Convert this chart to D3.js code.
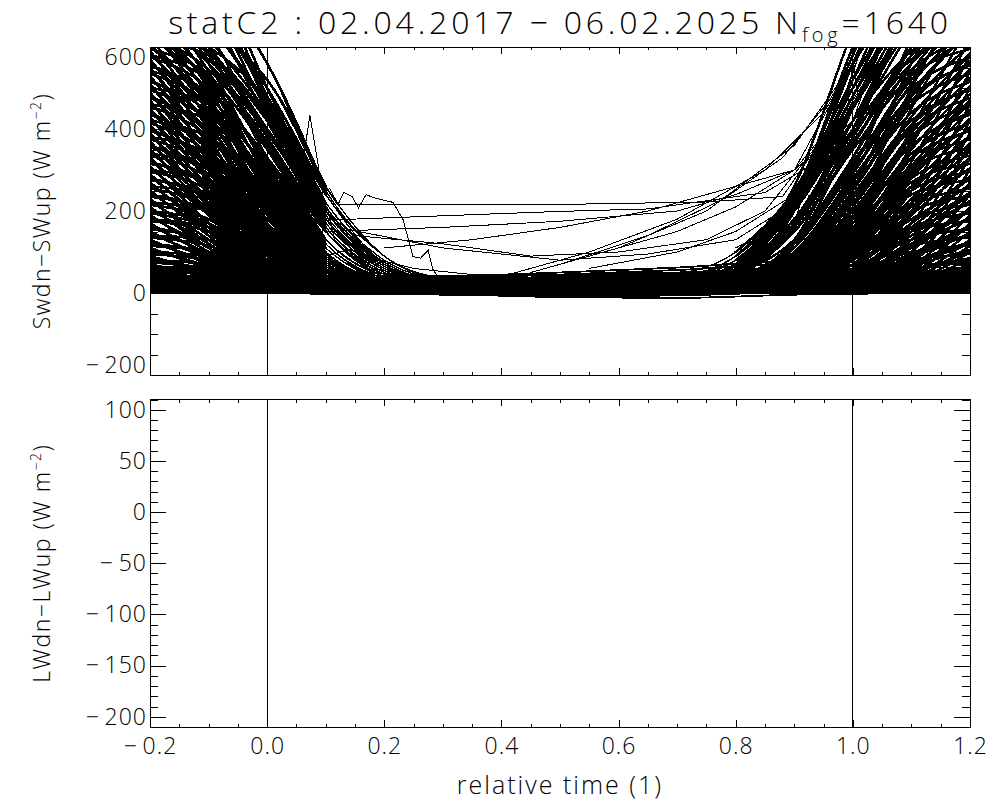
<!DOCTYPE html>
<html>
<head>
<meta charset="utf-8">
<script src="https://cdn.jsdelivr.net/npm/d3@7"></script>
<style>
  body { margin: 0; background: #fff; }
  svg { display: block; }
  text { font-family: "Open Sans", "DejaVu Sans", sans-serif; font-weight: 300; fill: #000; }
</style>
</head>
<body>
<svg id="chart"></svg>
<script>
// --- data ------------------------------------------------------------------

const title = 'statC2 : 02.04.2017 \u2212 06.02.2025 N'
const titleSub = 'fog'
const titleTail = '=1640'
const xLabel = 'relative time (1)'
const xTicks = [-0.2, 0.0, 0.2, 0.4, 0.6, 0.8, 1.0, 1.2]
const swTicks = [-200, 0, 200, 400, 600]
const lwTicks = [-200, -150, -100, -50, 0, 50, 100]
const markers = [0, 1]

// fog onset: net SW before fog starts, sampled at onsetX
const onsetX = [-0.2, -0.1, 0.0, 0.1, 0.2, 0.3]
const onsetRows = [
  [900, 700, 420, 180, 50, 20], [850, 640, 380, 150, 40, 15], [820, 600, 330, 120, 35, 12],
  [780, 560, 300, 100, 30, 10], [760, 620, 440, 220, 70, 25], [740, 540, 280, 90, 25, 8],
  [720, 600, 400, 170, 55, 18], [700, 520, 250, 80, 20, 6], [690, 640, 520, 260, 90, 30],
  [680, 500, 240, 70, 15, 5], [670, 560, 350, 130, 40, 15], [660, 480, 220, 60, 12, 4],
  [650, 600, 470, 240, 70, 20], [640, 460, 200, 55, 10, 3], [630, 520, 310, 110, 35, 12],
  [620, 440, 190, 50, 12, 5], [615, 580, 430, 200, 60, 20], [610, 420, 170, 45, 10, 3],
  [600, 470, 260, 90, 28, 10], [590, 400, 160, 40, 8, 2], [580, 520, 360, 150, 45, 15],
  [570, 380, 150, 35, 6, 2], [560, 450, 250, 85, 22, 8], [550, 360, 130, 30, 5, 0],
  [540, 490, 330, 130, 40, 15], [530, 340, 120, 25, 5, 0], [520, 420, 220, 70, 20, 6],
  [510, 320, 110, 22, 4, 0], [500, 460, 300, 110, 30, 10], [490, 300, 100, 20, 3, 0],
  [480, 390, 200, 60, 15, 5], [470, 280, 90, 18, 2, 0], [460, 420, 270, 100, 25, 8],
  [450, 270, 80, 15, 2, 0], [440, 350, 180, 55, 14, 5], [430, 250, 75, 12, 0, 0],
  [420, 380, 230, 80, 20, 6], [410, 240, 70, 10, 0, 0], [400, 320, 160, 45, 10, 3],
  [390, 220, 60, 8, 0, 0], [380, 340, 200, 70, 18, 5], [370, 210, 55, 8, 0, 0],
  [360, 290, 140, 40, 10, 3], [350, 200, 50, 6, 0, 0], [340, 300, 180, 60, 15, 4],
  [330, 190, 45, 5, 0, 0], [320, 260, 120, 35, 8, 2], [310, 170, 40, 5, 0, 0],
  [300, 270, 160, 55, 12, 4], [290, 160, 35, 4, 0, 0], [280, 230, 110, 30, 7, 2],
  [270, 150, 30, 3, 0, 0], [260, 240, 140, 45, 10, 3], [250, 140, 28, 3, 0, 0],
  [240, 200, 95, 25, 5, 0], [230, 120, 25, 2, 0, 0], [220, 200, 120, 40, 10, 2],
  [210, 110, 22, 2, 0, 0], [200, 170, 80, 20, 4, 0], [190, 100, 20, 2, 0, 0],
  [180, 160, 100, 35, 8, 2], [170, 90, 18, 0, 0, 0], [160, 130, 65, 18, 3, 0],
  [150, 80, 15, 0, 0, 0], [140, 130, 80, 28, 6, 0], [130, 70, 14, 0, 0, 0],
  [120, 100, 50, 14, 2, 0], [110, 60, 12, 0, 0, 0], [100, 90, 60, 20, 5, 0],
  [90, 50, 10, 0, 0, 0], [80, 70, 40, 12, 2, 0], [70, 40, 8, 0, 0, 0],
  [60, 55, 30, 10, 2, 0], [50, 30, 6, 0, 0, 0], [40, 35, 20, 6, 0, 0],
  [30, 18, 4, 0, 0, 0], [20, 15, 10, 3, 0, 0],
  [880, 760, 560, 250, 90, 35], [830, 700, 480, 220, 80, 30], [800, 660, 450, 200, 70, 20],
  [770, 690, 500, 240, 90, 30], [750, 600, 380, 160, 50, 15], [730, 650, 460, 210, 70, 25],
  [710, 580, 360, 150, 45, 12], [690, 560, 390, 180, 60, 20], [675, 530, 310, 120, 30, 8],
  [665, 590, 420, 200, 65, 20], [655, 510, 290, 100, 25, 6], [645, 570, 400, 180, 55, 15],
  [635, 490, 270, 90, 20, 5], [625, 545, 370, 160, 45, 12], [605, 460, 250, 80, 18, 4],
  [595, 530, 350, 150, 40, 10], [585, 430, 230, 70, 15, 3], [575, 500, 320, 120, 35, 10],
  [565, 410, 210, 60, 12, 2], [555, 480, 300, 110, 30, 8], [545, 390, 190, 55, 10, 2],
  [535, 460, 280, 95, 25, 6], [525, 370, 170, 45, 8, 0], [515, 440, 260, 85, 22, 5],
  [505, 350, 160, 40, 6, 0], [495, 420, 240, 75, 18, 4], [485, 330, 140, 35, 5, 0],
  [475, 400, 220, 65, 15, 3], [465, 310, 130, 30, 4, 0], [455, 380, 200, 60, 12, 2],
  [445, 300, 120, 25, 3, 0], [435, 360, 190, 55, 12, 2], [425, 280, 110, 22, 2, 0],
  [415, 340, 170, 50, 10, 2], [405, 260, 100, 20, 2, 0], [395, 330, 170, 50, 10, 2],
  [385, 250, 90, 15, 0, 0], [375, 310, 150, 40, 8, 0], [365, 230, 80, 12, 0, 0],
  [355, 300, 150, 45, 10, 2], [345, 220, 70, 10, 0, 0], [335, 280, 130, 35, 6, 0],
  [325, 200, 60, 8, 0, 0], [315, 270, 130, 40, 8, 0], [305, 190, 55, 6, 0, 0],
  [295, 250, 110, 30, 5, 0], [285, 170, 45, 5, 0, 0], [275, 240, 110, 30, 5, 0],
  [265, 160, 40, 4, 0, 0], [255, 210, 90, 22, 4, 0], [245, 150, 35, 3, 0, 0],
  [235, 200, 90, 25, 4, 0], [225, 130, 30, 2, 0, 0], [215, 180, 80, 20, 3, 0],
  [205, 120, 28, 2, 0, 0], [195, 160, 70, 18, 3, 0], [185, 110, 24, 2, 0, 0],
  [175, 150, 70, 18, 3, 0], [165, 95, 20, 0, 0, 0], [155, 130, 60, 15, 2, 0],
  [145, 85, 18, 0, 0, 0], [135, 115, 55, 14, 2, 0], [125, 75, 15, 0, 0, 0],
  [115, 100, 50, 12, 2, 0], [105, 65, 12, 0, 0, 0], [95, 80, 40, 10, 0, 0],
  [85, 55, 10, 0, 0, 0], [75, 60, 30, 8, 0, 0], [65, 40, 8, 0, 0, 0],
  [55, 45, 22, 6, 0, 0], [45, 28, 5, 0, 0, 0], [35, 28, 14, 4, 0, 0],
  [25, 15, 3, 0, 0, 0], [15, 12, 6, 2, 0, 0],
  [950, 780, 480, 200, 70, 25], [1000, 820, 500, 210, 75, 25], [920, 760, 460, 190, 65, 22],
  [870, 720, 440, 180, 60, 20], [960, 800, 470, 200, 70, 24]
]

// fog dissipation: net SW after fog ends, sampled at clearX
const clearX = [0.7, 0.8, 0.9, 1.0, 1.1, 1.2]
const clearRows = [
  [10, 30, 120, 380, 700, 900], [12, 40, 160, 450, 760, 950], [8, 25, 90, 300, 620, 850],
  [15, 50, 200, 520, 820, 1000], [5, 20, 70, 250, 560, 800], [20, 60, 240, 580, 880, 1050],
  [6, 18, 60, 210, 500, 760], [10, 35, 130, 400, 680, 820], [4, 15, 50, 180, 450, 700],
  [18, 55, 210, 480, 740, 880], [3, 12, 40, 150, 400, 660], [9, 30, 110, 330, 600, 780],
  [2, 10, 35, 130, 360, 620], [14, 45, 170, 420, 650, 760], [2, 8, 30, 110, 320, 580],
  [7, 25, 95, 290, 540, 700], [0, 6, 25, 95, 280, 540], [12, 40, 150, 360, 580, 690],
  [0, 5, 20, 80, 250, 500], [6, 22, 80, 250, 480, 640], [0, 4, 18, 70, 220, 460],
  [10, 35, 120, 310, 520, 620], [0, 3, 15, 60, 190, 420], [5, 18, 65, 210, 430, 580],
  [0, 2, 12, 50, 170, 390], [8, 28, 100, 270, 470, 560], [0, 2, 10, 45, 150, 360],
  [4, 15, 55, 180, 380, 520], [0, 0, 8, 40, 130, 330], [6, 22, 80, 230, 410, 500],
  [0, 0, 7, 35, 115, 300], [3, 12, 45, 150, 330, 470], [0, 0, 6, 30, 100, 270],
  [5, 18, 65, 190, 360, 440], [0, 0, 5, 25, 85, 240], [2, 10, 38, 125, 290, 420],
  [0, 0, 4, 20, 75, 210], [4, 15, 52, 160, 310, 400], [0, 0, 3, 18, 65, 190],
  [2, 8, 30, 105, 250, 380], [0, 0, 3, 15, 55, 170], [3, 12, 42, 130, 260, 350],
  [0, 0, 2, 12, 48, 150], [1, 6, 24, 85, 210, 330], [0, 0, 2, 10, 40, 130],
  [2, 10, 34, 105, 220, 300], [0, 0, 2, 8, 34, 115], [1, 5, 20, 70, 170, 280],
  [0, 0, 1, 7, 28, 100], [2, 8, 28, 85, 180, 260], [0, 0, 1, 6, 24, 85],
  [1, 4, 16, 55, 140, 240], [0, 0, 1, 5, 20, 70], [1, 6, 22, 70, 150, 220],
  [0, 0, 0, 4, 16, 60], [0, 3, 12, 45, 115, 200], [0, 0, 0, 3, 12, 50],
  [1, 5, 18, 55, 120, 180], [0, 0, 0, 2, 10, 40], [0, 2, 10, 35, 90, 160],
  [0, 0, 0, 2, 8, 30], [1, 4, 14, 42, 95, 140], [0, 0, 0, 1, 6, 22],
  [0, 2, 8, 28, 70, 120], [0, 1, 6, 20, 50, 100], [0, 2, 8, 25, 55, 80],
  [0, 1, 5, 15, 35, 60], [0, 1, 4, 12, 28, 45], [0, 1, 3, 9, 20, 30],
  [0, 0, 2, 6, 14, 20], [40, 80, 200, 450, 700, 850], [30, 70, 170, 400, 640, 780],
  [35, 90, 230, 500, 760, 900], [25, 60, 150, 360, 600, 720], [45, 100, 250, 520, 740, 860],
  [20, 50, 130, 330, 560, 700], [30, 65, 180, 420, 690, 820], [15, 55, 230, 600, 900, 1100],
  [10, 45, 200, 560, 850, 1000], [20, 70, 260, 640, 950, 1100],
  [35, 90, 240, 560, 760, 880], [30, 80, 220, 480, 700, 830], [20, 70, 200, 450, 660, 800],
  [30, 90, 240, 500, 690, 770], [15, 50, 160, 380, 600, 750], [25, 70, 210, 460, 650, 730],
  [12, 45, 150, 360, 580, 710], [20, 60, 180, 390, 560, 690], [8, 30, 120, 310, 530, 675],
  [20, 65, 200, 420, 590, 665], [6, 25, 100, 290, 510, 655], [15, 55, 180, 400, 570, 645],
  [5, 20, 90, 270, 490, 635], [12, 45, 160, 370, 545, 625], [4, 18, 80, 250, 460, 605],
  [10, 40, 150, 350, 530, 595], [3, 15, 70, 230, 430, 585], [10, 35, 120, 320, 500, 575],
  [2, 12, 60, 210, 410, 565], [8, 30, 110, 300, 480, 555], [2, 10, 55, 190, 390, 545],
  [6, 25, 95, 280, 460, 535], [0, 8, 45, 170, 370, 525], [5, 22, 85, 260, 440, 515],
  [0, 6, 40, 160, 350, 505], [4, 18, 75, 240, 420, 495], [0, 5, 35, 140, 330, 485],
  [3, 15, 65, 220, 400, 475], [0, 4, 30, 130, 310, 465], [2, 12, 60, 200, 380, 455],
  [0, 3, 25, 120, 300, 445], [2, 12, 55, 190, 360, 435], [0, 2, 22, 110, 280, 425],
  [2, 10, 50, 170, 340, 415], [0, 2, 20, 100, 260, 405], [2, 10, 50, 170, 330, 395],
  [0, 0, 15, 90, 250, 385], [0, 8, 40, 150, 310, 375], [0, 0, 12, 80, 230, 365],
  [2, 10, 45, 150, 300, 355], [0, 0, 10, 70, 220, 345], [0, 6, 35, 130, 280, 335],
  [0, 0, 8, 60, 200, 325], [0, 8, 40, 130, 270, 315], [0, 0, 6, 55, 190, 305],
  [0, 5, 30, 110, 250, 295], [0, 0, 5, 45, 170, 285], [0, 5, 30, 110, 240, 275],
  [0, 0, 4, 40, 160, 265], [0, 4, 22, 90, 210, 255], [0, 0, 3, 35, 150, 245],
  [0, 4, 25, 90, 200, 235], [0, 0, 2, 30, 130, 225], [0, 3, 20, 80, 180, 215],
  [0, 0, 2, 28, 120, 205], [0, 3, 18, 70, 160, 195], [0, 0, 2, 24, 110, 185],
  [0, 3, 18, 70, 150, 175], [0, 0, 0, 20, 95, 165], [0, 2, 15, 60, 130, 155],
  [0, 0, 0, 18, 85, 145], [0, 2, 14, 55, 115, 135], [0, 0, 0, 15, 75, 125],
  [0, 2, 12, 50, 100, 115], [0, 0, 0, 12, 65, 105], [0, 0, 10, 40, 80, 95],
  [0, 0, 0, 10, 55, 85], [0, 0, 8, 30, 60, 75], [0, 0, 0, 8, 40, 65],
  [0, 0, 6, 22, 45, 55], [0, 0, 0, 5, 28, 45], [0, 0, 4, 14, 28, 35],
  [0, 0, 0, 3, 15, 25], [0, 0, 2, 6, 12, 15]
]

// night fogs: flat near zero across the whole window
const nightX = [-0.2, 0.1, 0.3, 0.5, 0.7, 0.9, 1.2]
const nightRows = [
  [0, 0, 0, 0, 0, 0, 0], [3, 2, 2, 3, 4, 3, 2], [6, 5, 4, 5, 7, 6, 5],
  [10, 8, 6, 8, 10, 9, 8], [14, 10, 9, 10, 13, 12, 10], [18, 14, 12, 14, 16, 15, 14],
  [22, 18, 14, 16, 20, 20, 18], [26, 20, 17, 19, 24, 24, 22], [30, 24, 20, 22, 28, 28, 26],
  [35, 28, 22, 26, 32, 34, 30], [40, 30, 25, 30, 36, 40, 35], [45, 35, 28, 33, 40, 46, 40],
  [50, 38, 30, 36, 46, 52, 45], [55, 42, 34, 40, 50, 60, 52], [60, 48, 38, 45, 56, 70, 60],
  [65, 55, 42, 50, 62, 78, 68], [12, 20, 26, 30, 34, 40, 30], [8, 15, 22, 25, 28, 32, 25],
  [5, 10, 18, 22, 30, 45, 35], [2, 6, 12, 16, 22, 30, 20], [20, 30, 35, 38, 42, 50, 40],
  [25, 36, 40, 44, 50, 58, 48], [4, -2, -4, -8, -6, 2, 4], [2, 0, -3, -10, -12, -4, 2],
  [0, 1, -1, -5, -2, 0, 0], [1, 1, 1, 1, 1, 1, 1], [8, 4, 3, 3, 4, 6, 9],
  [16, 9, 7, 9, 11, 14, 20], [28, 15, 11, 13, 17, 22, 34], [48, 25, 16, 18, 24, 30, 55]
]

// single events that stand out in the middle, [relative time, W m-2]
const spikeEvent = [[-0.2, 700], [-0.1, 560], [0.0, 380], [0.03, 300], [0.06, 310], [0.073, 433],
  [0.095, 243], [0.107, 255], [0.121, 216], [0.131, 245], [0.145, 235], [0.156, 208], [0.169, 240],
  [0.181, 233], [0.203, 225], [0.215, 221], [0.232, 179], [0.249, 89], [0.262, 85], [0.275, 104],
  [0.283, 58], [0.3, 20], [0.4, 10], [0.6, 8]]
const flatEvents = [
  [[0.08, 300], [0.12, 216], [0.5, 216], [0.75, 222], [0.88, 235], [0.95, 380], [1.0, 520], [1.05, 650]],
  [[0.02, 260], [0.05, 175], [0.5, 199], [0.65, 205], [0.85, 245], [0.95, 330], [1.0, 470], [1.08, 650]],
  [[0.0, 300], [0.1, 150], [0.3, 160], [0.5, 175], [0.7, 200], [0.8, 240], [0.9, 300], [1.0, 560], [1.03, 650]],
  [[0.08, 220], [0.15, 140], [0.3, 120], [0.45, 90], [0.6, 100], [0.75, 130], [0.85, 200], [0.95, 380]],
  [[0.12, 160], [0.3, 110], [0.5, 80], [0.65, 95], [0.8, 130], [0.9, 220], [1.0, 480]],
  [[0.0, 300], [0.05, 180], [0.09, 120], [0.102, 212], [0.115, 130], [0.14, 90], [0.18, 60], [0.25, 40]],
  [[0.05, 200], [0.1, 90], [0.14, 106], [0.2, 78], [0.25, 60], [0.35, 45]]
]
const risingEvents = [
  [[0.4, 40], [0.55, 100], [0.7, 180], [0.85, 300], [0.95, 440], [1.02, 600]],
  [[0.45, 50], [0.6, 110], [0.75, 200], [0.9, 360], [1.0, 560], [1.03, 640]],
  [[0.55, 90], [0.7, 150], [0.8, 210], [0.9, 300], [0.97, 420], [1.02, 620]],
  [[0.5, 70], [0.65, 140], [0.78, 230], [0.88, 330], [0.96, 470], [1.0, 560]],
  [[0.2, 110], [0.35, 130], [0.5, 160], [0.65, 200], [0.8, 260], [0.9, 300], [1.0, 420], [1.05, 620]],
  [[0.55, 60], [0.7, 100], [0.8, 150], [0.9, 240], [0.95, 330], [1.0, 450]],
  [[0.85, 120], [0.9, 200], [0.93, 260], [0.95, 240], [0.97, 380], [0.99, 440], [1.0, 562], [1.01, 470], [1.05, 600]],
  [[0.8, 110], [0.84, 140], [0.86, 180], [0.87, 130], [0.89, 240], [0.9, 170], [0.92, 260], [0.93, 200],
    [0.95, 300], [0.98, 450], [1.02, 620]]
]

// --- layout ------------------------------------------------------------------

const width = 1000
const height = 800
const left = 150
const right = 970
const top1 = 47
const bottom1 = 375
const top2 = 399.5
const bottom2 = 727

const svg = d3.select('#chart')
  .attr('width', width)
  .attr('height', height)

svg.append('rect')
  .attr('width', width)
  .attr('height', height)
  .attr('fill', '#fff')

const x = d3.scaleLinear().domain([-0.2, 1.2]).range([left, right])
const ySW = d3.scaleLinear().domain([-200, 600]).range([bottom1, top1])
const yLW = d3.scaleLinear().domain([-210, 110]).range([bottom2, top2])

const minus = v => (v < 0 ? '\u2212\u2009' : '')
const fmtX = v => minus(v) + d3.format('.1f')(Math.abs(v))
const fmtY = v => minus(v) + Math.abs(v)

function clip (id, y0, y1) {
  svg.append('clipPath').attr('id', id)
    .append('rect')
    .attr('x', left).attr('y', y0)
    .attr('width', right - left).attr('height', y1 - y0)
}
clip('clipSW', top1, bottom1)
clip('clipLW', top2, bottom2)

// --- curves in the upper panel ----------------------------------------------

const lines = svg.append('g')
  .attr('clip-path', 'url(#clipSW)')
  .attr('fill', 'none')
  .attr('stroke', '#000')
  .attr('stroke-linecap', 'round')
  .attr('shape-rendering', 'crispEdges')

// rows -> [x, value] pairs so parts of a row can be drawn heavier
const pairs = (xs, rows) => rows.map(r => r.map((v, i) => [xs[i], v]))

const smooth = d3.line()
  .x(d => x(d[0]))
  .y(d => ySW(d[1]))
  .curve(d3.curveMonotoneX)

const jagged = d3.line()
  .x(d => x(d[0]))
  .y(d => ySW(d[1]))

function draw (cls, data, lineFn, w) {
  lines.selectAll('path.' + cls)
    .data(data)
    .enter().append('path')
    .attr('class', cls)
    .attr('stroke-width', w)
    .attr('d', lineFn)
}

const onset = pairs(onsetX, onsetRows)
const clear = pairs(clearX, clearRows)

draw('night', pairs(nightX, nightRows), smooth, 1.8)
// where the curves pile up (away from the fog window) they are drawn heavier
draw('onsetHead', onset.map(p => p.slice(0, 4)), smooth, 2.6)
draw('onset', onset, smooth, 1.3)
draw('clearTail', clear.map(p => p.slice(1)), smooth, 2.5)
draw('clear', clear, smooth, 1.3)
draw('single', [spikeEvent].concat(flatEvents, risingEvents), jagged, 1)

// --- frames, ticks, labels --------------------------------------------------

function panel (y, y0, y1, majors, label, showX) {
  const g = svg.append('g')
    .attr('shape-rendering', 'crispEdges')
  const xLen = 0.02 * (y1 - y0)
  const yLen = 0.02 * (right - left)

  // marker lines at fog start and end
  g.selectAll('line.marker')
    .data(markers)
    .enter().append('line')
    .attr('class', 'marker')
    .attr('x1', d => x(d)).attr('x2', d => x(d))
    .attr('y1', y0).attr('y2', y1)
    .attr('stroke', '#000')

  g.append('rect')
    .attr('x', left).attr('y', y0)
    .attr('width', right - left).attr('height', y1 - y0)
    .attr('fill', 'none')
    .attr('stroke', '#000')

  const minorX = x.ticks(28)
  const minorY = y.ticks(majors[1] - majors[0] === 50 ? 32 : 16)

  const axes = [
    [d3.axisBottom(x).tickValues(xTicks).tickSize(-xLen), y1, 'x', showX],
    [d3.axisBottom(x).tickValues(minorX).tickSize(-xLen / 2), y1, 'x', false],
    [d3.axisTop(x).tickValues(xTicks).tickSize(-xLen), y0, 'x', false],
    [d3.axisTop(x).tickValues(minorX).tickSize(-xLen / 2), y0, 'x', false],
    [d3.axisLeft(y).tickValues(majors).tickSize(-yLen), left, 'y', true],
    [d3.axisLeft(y).tickValues(minorY).tickSize(-yLen / 2), left, 'y', false],
    [d3.axisRight(y).tickValues(majors).tickSize(-yLen), right, 'y', false],
    [d3.axisRight(y).tickValues(minorY).tickSize(-yLen / 2), right, 'y', false]
  ]
  axes.forEach(([axis, pos, dir, labels]) => {
    if (dir === 'x') axis.tickFormat(labels ? fmtX : () => '').tickPadding(11)
    else axis.tickFormat(labels ? fmtY : () => '').tickPadding(3)
    const a = g.append('g')
      .attr('transform', dir === 'x' ? `translate(0,${pos})` : `translate(${pos},0)`)
      .call(axis)
    a.select('.domain').remove()
    a.selectAll('line').attr('stroke', '#000')
    a.selectAll('text')
      .attr('font-size', 23)
      .attr('letter-spacing', 1)
      .attr('font-family', null)
      .attr('fill', '#000')
  })

  // y title, rotated
  const t = svg.append('text')
    .attr('transform', `translate(50,${(y0 + y1) / 2}) rotate(-90)`)
    .attr('text-anchor', 'middle')
    .attr('font-size', 23)
    .attr('letter-spacing', 1.5)
  t.append('tspan').text(label + ' (W m')
  t.append('tspan').attr('dy', -9).attr('font-size', 14).text('\u22122')
  t.append('tspan').attr('dy', 9).text(')')
  return g
}

const topPanel = panel(ySW, top1, bottom1, swTicks, 'Swdn\u2212SWup', false)
// the end labels sit inside the frame
topPanel.selectAll('text')
  .filter(d => d === 600).attr('dy', '0.75em')
topPanel.selectAll('text')
  .filter(d => d === -200).attr('dy', '-0.1em')

panel(yLW, top2, bottom2, lwTicks, 'LWdn\u2212LWup', true)

// --- titles ------------------------------------------------------------------

const head = svg.append('text')
  .attr('x', (left + right) / 2)
  .attr('y', 34)
  .attr('text-anchor', 'middle')
  .attr('font-size', 32)
  .attr('letter-spacing', 3.8)
head.append('tspan').text(title)
head.append('tspan').attr('dy', 8).attr('font-size', 20).text(titleSub)
head.append('tspan').attr('dy', -8).text(titleTail)

svg.append('text')
  .attr('x', (left + right) / 2)
  .attr('y', 794)
  .attr('text-anchor', 'middle')
  .attr('font-size', 25)
  .attr('letter-spacing', 2)
  .text(xLabel)
</script>
</body>
</html>
